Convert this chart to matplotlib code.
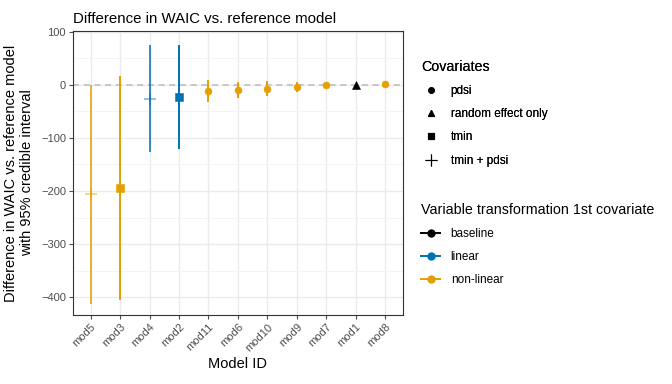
import matplotlib

matplotlib.use("Agg")
import matplotlib.pyplot as plt
from matplotlib.lines import Line2D
import numpy as np

plt.rcParams["font.family"] = ["Liberation Sans", "DejaVu Sans"]

# values
models = ["mod5", "mod3", "mod4", "mod2", "mod11", "mod6", "mod10", "mod9", "mod7", "mod1", "mod8"]
diff = [-206, -194, -26, -24, -12, -10, -8, -5, -1, 0, 1]
lower = [-413, -404, -126, -121, -32, -25, -21, -14, -3, 0, -1]
upper = [0, 17, 74, 74, 8, 5, 7, 5, 1, 0, 3]
covariate = ["tmin + pdsi", "tmin", "tmin + pdsi", "tmin", "pdsi", "pdsi", "pdsi",
             "pdsi", "pdsi", "random effect only", "pdsi"]
transform = ["non-linear", "non-linear", "linear", "linear", "non-linear", "non-linear",
             "non-linear", "non-linear", "non-linear", "baseline", "non-linear"]

colors = {"baseline": "#000000", "linear": "#0072B2", "non-linear": "#E69F00"}
shapes = {"pdsi": "o", "random effect only": "^", "tmin": "s", "tmin + pdsi": "+"}
sizes = {"pdsi": 5, "random effect only": 5.5, "tmin": 5.5, "tmin + pdsi": 8}

fig = plt.figure(figsize=(6.72, 3.84), dpi=100)
ax = fig.add_axes([0.1086, 0.1797, 0.491, 0.7396])

x = np.arange(len(models))
ax.axhline(0, color="#BBBBBB", linestyle=(0, (4, 3)), linewidth=1.1, zorder=1)

for i in x:
    col = colors[transform[i]]
    cov = covariate[i]
    plus = cov == "tmin + pdsi"
    ax.vlines(i, lower[i], upper[i], color=col, linewidth=1.4,
              alpha=0.8 if plus else 1.0, zorder=2)
    ax.plot(i, diff[i], marker=shapes[cov], color=col, alpha=0.55 if plus else 1.0,
            markersize=sizes[cov], markeredgewidth=1.1 if plus else 0.4,
            linestyle="none", zorder=3)

ax.set_xlim(-0.6, len(models) - 0.4)
ax.set_ylim(-433, 101)
ax.set_yticks([-400, -300, -200, -100, 0, 100])
ax.set_yticks([-350, -250, -150, -50, 50], minor=True)
ax.set_xticks(x)
ax.set_xticklabels(models, rotation=45, ha="right", rotation_mode="anchor")
ax.tick_params(axis="both", which="major", labelsize=8, colors="#4D4D4D",
               length=3, width=0.8, pad=2)
ax.tick_params(axis="y", which="minor", length=0)
for lab in ax.get_xticklabels() + ax.get_yticklabels():
    lab.set_color("#4D4D4D")

ax.grid(True, which="major", color="#EBEBEB", linewidth=1.0, zorder=0)
ax.grid(True, which="minor", axis="y", color="#F3F3F3", linewidth=0.6, zorder=0)
ax.set_axisbelow(True)
for s in ax.spines.values():
    s.set_color("#333333")
    s.set_linewidth(0.8)

ax.set_title("Difference in WAIC vs. reference model", loc="left", fontsize=10.8, pad=6)
ax.set_xlabel("Model ID", fontsize=10.5, labelpad=3)
ax.set_ylabel("Difference in WAIC vs. reference model\nwith 95% credible interval",
              fontsize=10.5, linespacing=1.15, labelpad=5)

shape_handles = [Line2D([], [], marker=shapes[k], color="black", linestyle="none",
                        markersize=9 if k == "tmin + pdsi" else 4, markeredgewidth=0.8)
                 for k in shapes]
leg1 = fig.legend(shape_handles, list(shapes.keys()), title="Covariates",
                  loc="upper left", bbox_to_anchor=(0.611, 0.872), frameon=False,
                  fontsize=8.5, title_fontsize=10.3, alignment="left",
                  handlelength=1.6, labelspacing=0.95, handletextpad=0.9)

col_handles = [Line2D([], [], marker="o", color=colors[k], markersize=5, linewidth=1.4)
               for k in colors]
leg2 = fig.legend(col_handles, list(colors.keys()), title="Variable transformation 1st covariate",
                  loc="upper left", bbox_to_anchor=(0.611, 0.5), frameon=False,
                  fontsize=8.5, title_fontsize=10.3, alignment="left",
                  handlelength=1.6, labelspacing=0.95, handletextpad=0.9)
fig.add_artist(leg1)

fig.savefig("out.png", dpi=100)
